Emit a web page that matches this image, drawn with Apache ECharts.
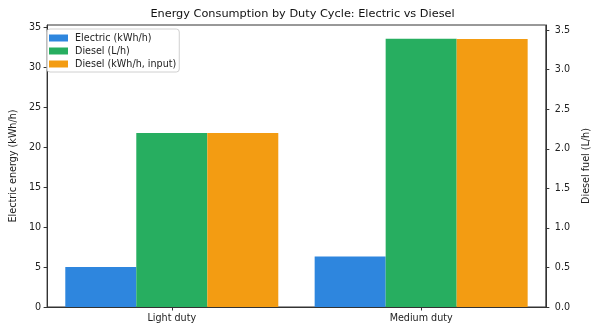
<!DOCTYPE html>
<html>
<head>
<meta charset="utf-8">
<script src="https://cdn.jsdelivr.net/npm/echarts@6/dist/echarts.min.js"></script>
<style>
  html, body { margin: 0; padding: 0; background: #fff; }
  #chart { width: 599px; height: 333px; }
</style>
</head>
<body>
<div id="chart"></div>
<script>
// Duty cycles compared
const categories = ['Light duty', 'Medium duty'];

// Energy use per hour of operation
const electricKwh = [5.0, 6.33];     // kWh/h, left axis
const dieselLitres = [2.2, 3.39];    // L/h, right axis
const dieselKwh = [21.78, 33.56];    // kWh/h of fuel input, left axis

// Axis tick labels
const leftTicks = [0, 5, 10, 15, 20, 25, 30, 35];
const rightTicks = [0, 0.5, 1.0, 1.5, 2.0, 2.5, 3.0, 3.5];

const FONT = 'DejaVu Sans';
const FS = 9.6;
const TEXT = '#222';
const LINE = '#333';

const chart = echarts.init(document.getElementById('chart'), null, { renderer: 'canvas' });

const yBase = {
  type: 'value',
  min: 0,
  nameLocation: 'middle',
  nameTextStyle: { fontFamily: FONT, fontSize: FS, color: TEXT },
  splitLine: { show: false },
  axisLine: { show: true, lineStyle: { color: LINE, width: 1 } },
  axisTick: { show: true, length: 3.5, lineStyle: { color: LINE } },
  axisLabel: { fontFamily: FONT, fontSize: FS, color: TEXT }
};

chart.setOption({
  animation: false,
  backgroundColor: '#fff',
  title: {
    text: 'Energy Consumption by Duty Cycle: Electric vs Diesel',
    left: 297.5, top: 4, textAlign: 'center',
    textStyle: { fontFamily: FONT, fontSize: 11.3, fontWeight: 'normal', color: '#111' }
  },
  legend: {
    orient: 'vertical',
    left: 47, top: 29,
    icon: 'rect',
    itemWidth: 19, itemHeight: 7,
    itemGap: 3,
    padding: [4, 3, 3, 2],
    borderColor: '#d0d0d0', borderWidth: 1, borderRadius: 3,
    backgroundColor: 'rgba(255,255,255,0.85)',
    textStyle: { fontFamily: FONT, fontSize: FS, color: TEXT, padding: [0, 0, 0, 2] },
    data: ['Electric (kWh/h)', 'Diesel (L/h)', 'Diesel (kWh/h, input)']
  },
  grid: {
    left: 41, right: 45, top: 25, bottom: 26,
    show: true, borderColor: LINE, borderWidth: 1, backgroundColor: 'transparent'
  },
  xAxis: {
    type: 'category',
    data: categories,
    axisLine: { show: true, lineStyle: { color: LINE } },
    axisTick: { show: true, alignWithLabel: true, length: 3.5, lineStyle: { color: LINE } },
    axisLabel: { fontFamily: FONT, fontSize: FS, color: TEXT, margin: 6 }
  },
  yAxis: [
    Object.assign({}, yBase, {
      position: 'left',
      max: 35.3,
      name: 'Electric energy (kWh/h)',
      nameGap: 28,
      axisTick: Object.assign({}, yBase.axisTick, { customValues: leftTicks }),
      axisLabel: Object.assign({}, yBase.axisLabel, { customValues: leftTicks, margin: 6 })
    }),
    Object.assign({}, yBase, {
      position: 'right',
      max: 3.564,
      name: 'Diesel fuel (L/h)',
      nameGap: 26,
      axisTick: Object.assign({}, yBase.axisTick, { customValues: rightTicks }),
      axisLabel: Object.assign({}, yBase.axisLabel, {
        customValues: rightTicks,
        margin: 9,
        formatter: v => v.toFixed(1)
      })
    })
  ],
  series: [
    {
      name: 'Electric (kWh/h)', type: 'bar', yAxisIndex: 0,
      data: electricKwh, barWidth: 71, barGap: '0%',
      itemStyle: { color: '#2E86DE' }
    },
    {
      name: 'Diesel (L/h)', type: 'bar', yAxisIndex: 1,
      data: dieselLitres, barWidth: 71, barGap: '0%',
      itemStyle: { color: '#27AE60' }
    },
    {
      name: 'Diesel (kWh/h, input)', type: 'bar', yAxisIndex: 0,
      data: dieselKwh, barWidth: 71, barGap: '0%',
      itemStyle: { color: '#F39C12' }
    }
  ]
});
</script>
</body>
</html>
